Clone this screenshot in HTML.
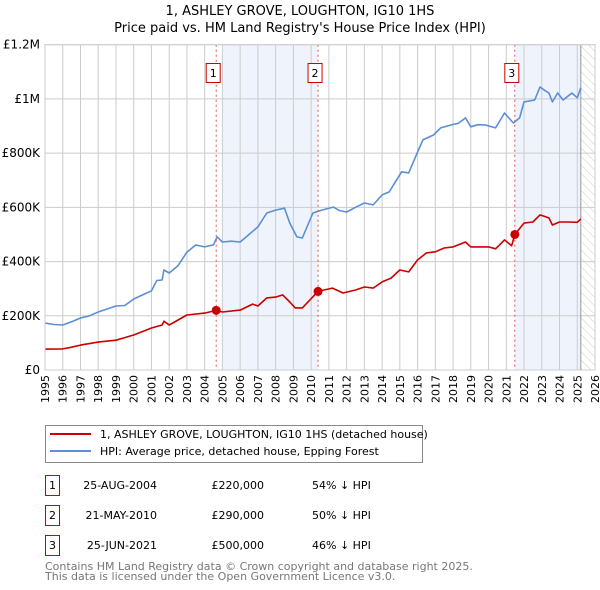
<!DOCTYPE html>
<html><head><meta charset="utf-8"><style>
body{margin:0;background:#fff;font-family:"DejaVu Sans","Liberation Sans",sans-serif;}
svg{display:block}
</style></head><body>
<svg id="chart" width="600" height="590" viewBox="0 0 600 590">
<defs>
<pattern id="hatch" width="6" height="6" patternUnits="userSpaceOnUse" patternTransform="rotate(-45)">
<line x1="0" y1="0" x2="0" y2="6" stroke="#ccc" stroke-width="1"/></pattern>
<clipPath id="plotclip"><rect x="45" y="44" width="550" height="326"/></clipPath>
</defs>
<text x="300" y="15" text-anchor="middle" font-size="13" fill="#000">1, ASHLEY GROVE, LOUGHTON, IG10 1HS</text>
<text x="300" y="32" text-anchor="middle" font-size="13" fill="#000">Price paid vs. HM Land Registry's House Price Index (HPI)</text>
<g id="bg"></g>
<g id="grid"></g>
<g id="series" clip-path="url(#plotclip)"></g>
<g id="marks"></g>
<g id="axes"></g>

<g>
<rect x="45.5" y="425.5" width="377" height="37" fill="#fff" stroke="#888"/>
<line x1="50" y1="434" x2="91" y2="434" stroke="#cc0000" stroke-width="2"/>
<text x="100" y="438" font-size="11">1, ASHLEY GROVE, LOUGHTON, IG10 1HS (detached house)</text>
<line x1="50" y1="451" x2="91" y2="451" stroke="#5b8fd6" stroke-width="2"/>
<text x="100" y="455" font-size="11">HPI: Average price, detached house, Epping Forest</text>
</g>

<g font-size="11">
<g>
<rect x="45.5" y="475.5" width="14" height="20" fill="#fff" stroke="#cc0000"/><text x="52.5" y="489" text-anchor="middle">1</text>
<text x="157" y="489" text-anchor="end">25-AUG-2004</text><text x="264" y="489" text-anchor="end">£220,000</text><text x="312" y="489">54% ↓ HPI</text></g>
<g>
<rect x="45.5" y="505.5" width="14" height="20" fill="#fff" stroke="#cc0000"/><text x="52.5" y="519" text-anchor="middle">2</text>
<text x="157" y="519" text-anchor="end">21-MAY-2010</text><text x="264" y="519" text-anchor="end">£290,000</text><text x="312" y="519">50% ↓ HPI</text></g>
<g>
<rect x="45.5" y="535.5" width="14" height="20" fill="#fff" stroke="#cc0000"/><text x="52.5" y="549" text-anchor="middle">3</text>
<text x="157" y="549" text-anchor="end">25-JUN-2021</text><text x="264" y="549" text-anchor="end">£500,000</text><text x="312" y="549">46% ↓ HPI</text></g>
</g>
<text x="45" y="570" font-size="11" fill="#777">Contains HM Land Registry data © Crown copyright and database right 2025.</text>
<text x="45" y="580" font-size="11" fill="#777">This data is licensed under the Open Government Licence v3.0.</text>
</svg>
<script>
const hpiYears=[1995,1995.5,1996,1996.5,1997,1997.5,1998,1998.5,1999,1999.5,2000,2000.5,2001,2001.3,2001.6,2001.7,2002,2002.5,2003,2003.5,2004,2004.5,2004.7,2005,2005.5,2006,2006.5,2007,2007.5,2008,2008.5,2008.8,2009.2,2009.5,2010.1,2010.6,2011.25,2011.6,2012,2012.5,2013,2013.5,2014,2014.4,2015.1,2015.5,2016,2016.3,2016.9,2017.3,2017.9,2018.3,2018.7,2019,2019.4,2019.8,2020.4,2020.9,2021.4,2021.75,2022,2022.6,2022.9,2023.2,2023.4,2023.6,2023.9,2024.2,2024.7,2025,2025.2];
const hpiValues=[173,168,166,178,192,200,214,225,236,238,262,277,292,330,332,369,358,385,435,461,454,462,491,472,475,472,500,528,579,590,597,542,491,487,579,590,601,588,583,600,616,609,646,657,731,727,804,849,867,893,904,910,930,897,905,904,893,948,911,930,989,996,1044,1030,1022,989,1022,996,1022,1004,1041];
const ppYears=[1995,1996,1996.5,1997,1998,1999,2000,2001,2001.6,2001.7,2002,2003,2004,2004.65,2005,2006,2006.7,2007,2007.5,2008,2008.4,2008.8,2009.1,2009.5,2010.39,2011.2,2011.8,2012.5,2013,2013.5,2014,2014.5,2015,2015.5,2016,2016.5,2017,2017.5,2018,2018.7,2019,2020,2020.4,2020.9,2021.3,2021.48,2022,2022.5,2022.9,2023.4,2023.6,2024,2024.5,2025,2025.2];
const ppValues=[77,78,84,92,103,110,129,155,166,180,166,203,210,220,214,221,243,236,266,269,277,251,229,229,290,302,284,295,306,302,325,339,369,362,406,432,436,450,454,472,454,454,447,480,458,500,542,546,572,561,535,546,546,545,557];
const saleYears=[2004.65,2010.39,2021.48];
const saleValues=[220,290,500];
const saleLabels=["1","2","3"];
const yTicks=[0,200,400,600,800,1000,1200];
const yTickLabels=["£0","£200K","£400K","£600K","£800K","£1M","£1.2M"];
const xTicks=[1995,1996,1997,1998,1999,2000,2001,2002,2003,2004,2005,2006,2007,2008,2009,2010,2011,2012,2013,2014,2015,2016,2017,2018,2019,2020,2021,2022,2023,2024,2025,2026];
const shadeRanges=[[2005,2010.39],[2021.48,2025.2]];
const dataEnd=2025.2;

const NS="http://www.w3.org/2000/svg";
const X0=45,X1=595,Y0=370,Y1=44.7;
const xs=y=>X0+(y-1995)/(2026-1995)*(X1-X0);
const ys=v=>Y0-v/1200*(Y0-Y1);
function mk(tag,attrs,parent){const e=document.createElementNS(NS,tag);for(const k in attrs)e.setAttribute(k,attrs[k]);parent.appendChild(e);return e;}
const bg=document.getElementById('bg'),grid=document.getElementById('grid'),ser=document.getElementById('series'),marks=document.getElementById('marks'),axes=document.getElementById('axes');
shadeRanges.forEach(r=>{const e=mk('rect',{x:xs(r[0]),y:Y1,width:xs(r[1])-xs(r[0]),height:Y0-Y1,fill:'#eef3fc'},bg);

});
const h=mk('rect',{x:xs(dataEnd),y:Y1,width:X1-xs(dataEnd),height:Y0-Y1,fill:'url(#hatch)'},bg);


xTicks.forEach(t=>{const l=mk('line',{x1:xs(t),x2:xs(t),y1:Y1,y2:Y0,stroke:'#ccc','stroke-width':1},grid);


const tx=mk('text',{x:0,y:0,'font-size':11,'text-anchor':'end',transform:`translate(${xs(t)+4},${Y0+5}) rotate(-90)`},axes);tx.textContent=t;

});
yTicks.forEach((t,i)=>{const l=mk('line',{x1:X0,x2:X1,y1:ys(t),y2:ys(t),stroke:'#ccc','stroke-width':1},grid);


const tx=mk('text',{x:40,y:ys(t)+4,'font-size':12,'text-anchor':'end'},axes);tx.textContent=yTickLabels[i];

});
const el=mk('line',{x1:xs(dataEnd),x2:xs(dataEnd),y1:Y1,y2:Y0,stroke:'#999','stroke-width':1},grid);


function path(xa,va,color,name){const d=xa.map((x,i)=>(i?'L':'M')+xs(x).toFixed(1)+','+ys(va[i]).toFixed(1)).join('');
const p=mk('path',{d:d,fill:'none',stroke:color,'stroke-width':1.6,'stroke-linejoin':'round'},ser);

}
path(hpiYears,hpiValues,'#5b8fd6','hpi-line');
path(ppYears,ppValues,'#cc0000','property-price-line');
saleYears.forEach((y,i)=>{const l=mk('line',{x1:xs(y),x2:xs(y),y1:Y1,y2:Y0,stroke:'#e05555','stroke-width':1,'stroke-dasharray':'2,3'},marks);


const c=mk('circle',{cx:xs(y),cy:ys(saleValues[i]),r:4.5,fill:'#cc0000'},marks);


const bx=xs(y)-3;
const r=mk('rect',{x:bx-7,y:63.5,width:14,height:19,fill:'#fff',stroke:'#cc0000'},marks);


const t=mk('text',{x:bx,y:77,'font-size':11,'text-anchor':'middle'},marks);t.textContent=saleLabels[i];

});
const fr=mk('rect',{x:X0,y:Y1,width:X1-X0,height:Y0-Y1,fill:'none',stroke:'#ccc'},axes);


</script>
</body></html>
